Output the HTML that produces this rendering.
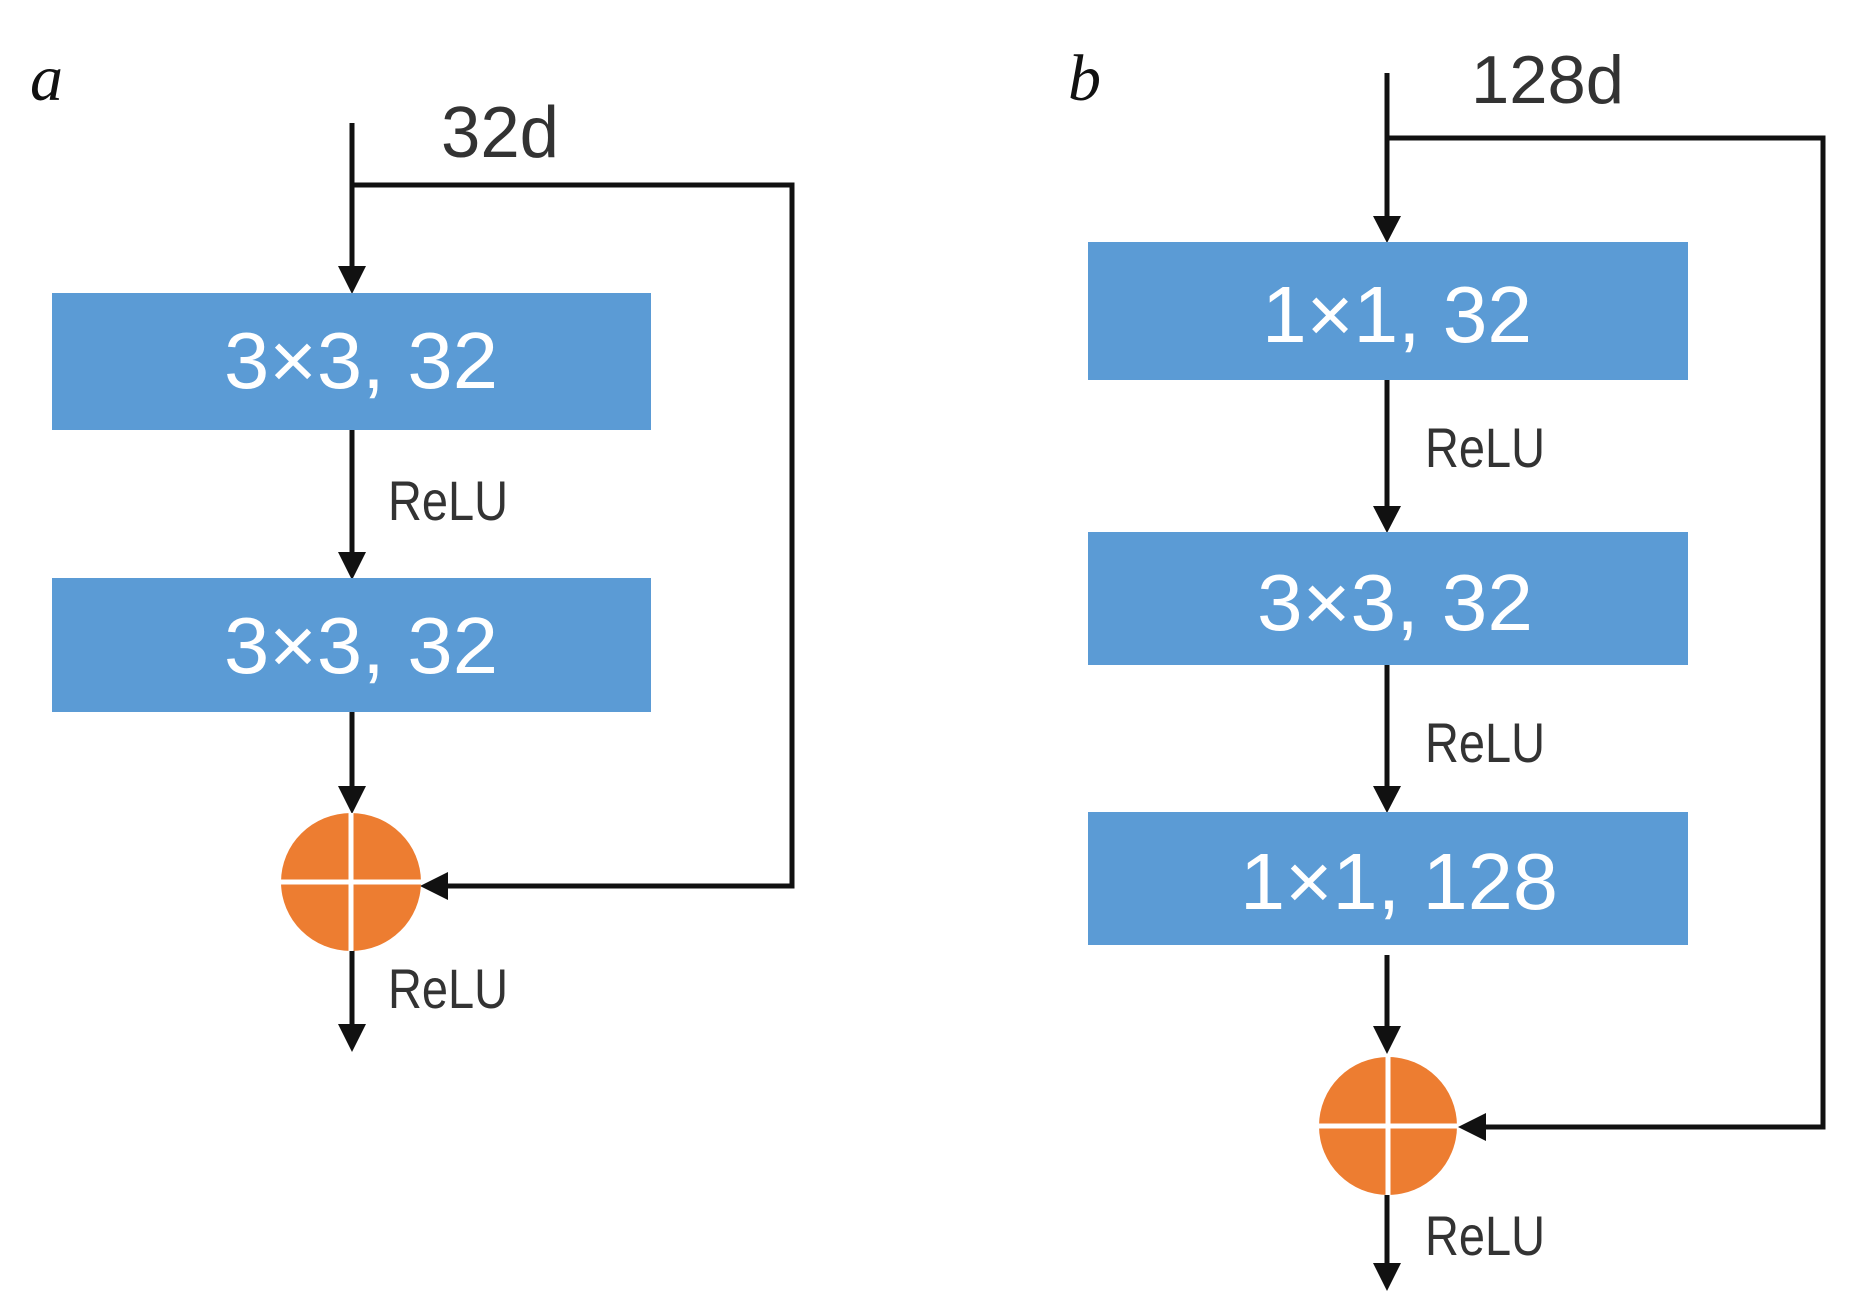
<!DOCTYPE html>
<html><head><meta charset="utf-8"><style>html,body{margin:0;padding:0;background:#fff;}svg{display:block}</style></head>
<body>
<svg width="1863" height="1304" viewBox="0 0 1863 1304" xmlns="http://www.w3.org/2000/svg">
<defs>
<marker id="ah" markerWidth="10" markerHeight="10" refX="9" refY="5" orient="auto" markerUnits="userSpaceOnUse" viewBox="0 0 10 10">
</marker>
</defs>
<g font-family="Liberation Sans, sans-serif">
<!-- labels a, b -->
<text x="30" y="100" font-family="Liberation Serif, serif" font-style="italic" font-size="66" fill="#111">a</text>
<text x="1068" y="100" font-family="Liberation Serif, serif" font-style="italic" font-size="66" fill="#111">b</text>

<!-- Panel a -->
<g stroke="#111" stroke-width="5" fill="none">
<line x1="352" y1="123" x2="352" y2="270"/>
<polyline points="352,185 792,185 792,886 440,886"/>
<line x1="352" y1="430" x2="352" y2="555"/>
<line x1="352" y1="712" x2="352" y2="790"/>
<line x1="352" y1="950" x2="352" y2="1025"/>
</g>
<g fill="#111">
<polygon points="338,266 366,266 352,294"/>
<polygon points="338,552 366,552 352,580"/>
<polygon points="338,786 366,786 352,814"/>
<polygon points="338,1024 366,1024 352,1052"/>
<polygon points="448,872 448,900 420,886"/>
</g>
<rect x="52" y="293" width="599" height="137" fill="#5B9BD5"/>
<rect x="52" y="578" width="599" height="134" fill="#5B9BD5"/>
<text x="224" y="388" font-size="80" fill="#fff" textLength="274" lengthAdjust="spacingAndGlyphs">3×3, 32</text>
<text x="224" y="673" font-size="80" fill="#fff" textLength="274" lengthAdjust="spacingAndGlyphs">3×3, 32</text>
<text x="441" y="157" font-size="72" fill="#333" textLength="118" lengthAdjust="spacingAndGlyphs">32d</text>
<text x="388" y="520" font-size="56" fill="#333" textLength="120" lengthAdjust="spacingAndGlyphs">ReLU</text>
<text x="388" y="1008" font-size="56" fill="#333" textLength="120" lengthAdjust="spacingAndGlyphs">ReLU</text>
<ellipse cx="351" cy="882" rx="70" ry="69" fill="#ED7D31"/>
<line x1="351" y1="813" x2="351" y2="951" stroke="#fff" stroke-width="5"/>
<line x1="281" y1="882" x2="421" y2="882" stroke="#fff" stroke-width="5"/>

<!-- Panel b -->
<g stroke="#111" stroke-width="5" fill="none">
<line x1="1387" y1="73" x2="1387" y2="220"/>
<polyline points="1387,138 1823,138 1823,1127 1480,1127"/>
<line x1="1387" y1="380" x2="1387" y2="510"/>
<line x1="1387" y1="665" x2="1387" y2="790"/>
<line x1="1387" y1="955" x2="1387" y2="1030"/>
<line x1="1387" y1="1195" x2="1387" y2="1265"/>
</g>
<g fill="#111">
<polygon points="1373,216 1401,216 1387,243"/>
<polygon points="1373,506 1401,506 1387,533"/>
<polygon points="1373,786 1401,786 1387,813"/>
<polygon points="1373,1026 1401,1026 1387,1054"/>
<polygon points="1373,1263 1401,1263 1387,1291"/>
<polygon points="1486,1113 1486,1141 1458,1127"/>
</g>
<rect x="1088" y="242" width="600" height="138" fill="#5B9BD5"/>
<rect x="1088" y="532" width="600" height="133" fill="#5B9BD5"/>
<rect x="1088" y="812" width="600" height="133" fill="#5B9BD5"/>
<text x="1262" y="342" font-size="80" fill="#fff" textLength="270" lengthAdjust="spacingAndGlyphs">1×1, 32</text>
<text x="1257" y="630" font-size="80" fill="#fff" textLength="276" lengthAdjust="spacingAndGlyphs">3×3, 32</text>
<text x="1240" y="909" font-size="80" fill="#fff" textLength="318" lengthAdjust="spacingAndGlyphs">1×1, 128</text>
<text x="1471" y="103" font-size="68" fill="#333" textLength="153" lengthAdjust="spacingAndGlyphs">128d</text>
<text x="1425" y="467" font-size="56" fill="#333" textLength="120" lengthAdjust="spacingAndGlyphs">ReLU</text>
<text x="1425" y="762" font-size="56" fill="#333" textLength="120" lengthAdjust="spacingAndGlyphs">ReLU</text>
<text x="1425" y="1255" font-size="56" fill="#333" textLength="120" lengthAdjust="spacingAndGlyphs">ReLU</text>
<ellipse cx="1388" cy="1126" rx="69" ry="69" fill="#ED7D31"/>
<line x1="1388" y1="1057" x2="1388" y2="1195" stroke="#fff" stroke-width="5"/>
<line x1="1319" y1="1126" x2="1457" y2="1126" stroke="#fff" stroke-width="5"/>
</g>
</svg>
</body></html>
